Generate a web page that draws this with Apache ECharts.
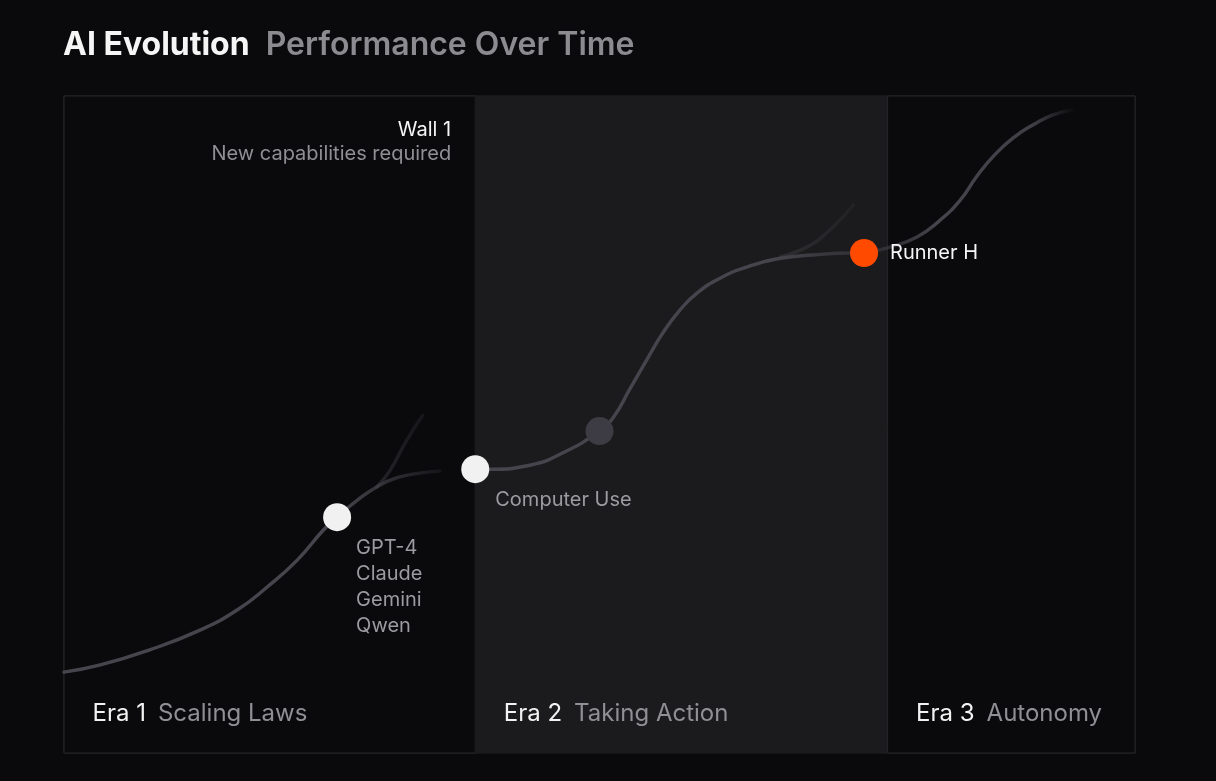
<!DOCTYPE html>
<html>
<head>
<meta charset="utf-8">
<title>AI Evolution</title>
<script src="https://cdn.jsdelivr.net/npm/echarts@6/dist/echarts.min.js"></script>
<style>
  html, body { margin: 0; padding: 0; background: #0a0a0c; }
  #chart { width: 1216px; height: 781px; }
</style>
</head>
<body>
<div id="chart"></div>
<script>
// eras along the time axis (0-100)
const eraNames = ['Era 1', 'Era 2', 'Era 3'];
const eraTitles = ['Scaling Laws', 'Taking Action', 'Autonomy'];
const eraBounds = [0, 38.4, 76.9, 100];

// performance curves [time, performance]
const scalingCurve = [
  [0, 12.3], [3.4, 13.4], [8.0, 15.7], [12.7, 18.7], [16.2, 21.8], [19.0, 25.3],
  [21.8, 29.4], [24.2, 33.9], [25.5, 35.9], [27.4, 38.5], [29.2, 40.5], [31.1, 41.9],
  [33.2, 42.6], [35.1, 42.9]
];
const scalingBranch = [[29.2, 40.5], [30.4, 42.9], [32.0, 47.6], [33.5, 51.4]];
const actionCurve = [
  [38.4, 43.2], [39.8, 43.2], [43.5, 43.8], [46.6, 45.7], [50.0, 49.0], [51.3, 51.1],
  [52.8, 55.3], [54.4, 59.8], [55.9, 63.9], [57.5, 67.4], [59.1, 70.0], [61.3, 72.3],
  [63.8, 74.0], [66.9, 75.3], [69.9, 75.8], [73.4, 76.1], [74.7, 76.1]
];
const actionBranch = [[66.9, 75.5], [69.7, 77.3], [71.5, 79.6], [72.9, 81.9], [73.7, 83.4]];
const autonomyCurve = [
  [74.7, 76.1], [76.9, 76.9], [79.6, 78.5], [81.8, 81.1], [83.7, 84.2], [85.2, 87.7],
  [86.7, 90.7], [88.6, 93.6], [90.8, 95.9], [92.3, 97.1], [94.2, 97.9]
];

// milestones
const milestones = [[25.5, 35.9], [38.4, 43.2], [50.0, 49.0], [74.7, 76.1]];
const milestoneLabels = ['GPT-4\nClaude\nGemini\nQwen', 'Computer Use', '', 'Runner H'];

// wall annotation
const wallPoint = [36.2, 93.0];
const wallTitle = 'Wall 1';
const wallText = 'New capabilities required';

const LINE = '70,69,77';
function fade(stops) {
  return new echarts.graphic.LinearGradient(0, 0, 1, 0,
    stops.map(s => ({ offset: s[0], color: 'rgba(' + LINE + ',' + s[1] + ')' })));
}

function curve(name, data, stops) {
  return {
    name: name,
    type: 'line',
    data: data,
    smooth: 0.5,
    showSymbol: false,
    silent: true,
    z: 3,
    lineStyle: { width: 3.4, color: fade(stops), cap: 'round' }
  };
}

const dotColors = ['#f1f1f1', '#f1f1f1', '#3d3c44', '#ff4a00'];
const dotLabels = [
  { position: [33, 32], color: '#9b9ba0' },
  { position: [34, 32], color: '#9b9ba0' },
  { show: false },
  { position: 'right', distance: 12, color: '#f5f5f5', verticalAlign: 'middle' }
];

const chart = echarts.init(document.getElementById('chart'));

const option = {
  backgroundColor: '#0a0a0c',
  animation: false,
  title: {
    left: 58,
    top: 24,
    text: '{a|AI Evolution}{b|Performance Over Time}',
    textStyle: {
      rich: {
        a: { fontFamily: 'Inter', fontSize: 32, fontWeight: 700, color: '#f5f5f5' },
        b: { fontFamily: 'Inter', fontSize: 32, fontWeight: 600, color: '#8c8c90', padding: [0, 0, 0, 16] }
      }
    }
  },
  grid: {
    left: 64, top: 96, width: 1071, height: 657,
    show: true, borderColor: '#232326', borderWidth: 1, backgroundColor: 'transparent'
  },
  xAxis: { type: 'value', min: 0, max: 100, show: false },
  yAxis: { type: 'value', min: 0, max: 100, show: false },
  series: [
    {
      name: 'eras',
      type: 'line',
      data: [],
      silent: true,
      z: 1,
      markArea: {
        silent: true,
        data: eraNames.map((n, i) => [
          {
            xAxis: eraBounds[i], yAxis: 0,
            itemStyle: {
              color: i === 1 ? '#1b1b1d' : '#0a0a0c',
              borderColor: i === 1 ? 'transparent' : '#26262a',
              borderWidth: 1
            },
            label: {
              show: true,
              position: [29, 618],
              align: 'left',
              verticalAlign: 'middle',
              formatter: '{a|' + n + '}{b|' + eraTitles[i] + '}',
              rich: {
                a: { fontFamily: 'Inter', fontSize: 24, color: '#f2f2f2' },
                b: { fontFamily: 'Inter', fontSize: 24, color: '#8f8f94', padding: [0, 0, 0, 12] }
              }
            }
          },
          { xAxis: eraBounds[i + 1], yAxis: 100 }
        ])
      }
    },
    curve('scaling', scalingCurve, [[0, 1], [0.72, 1], [1, 0.2]]),
    curve('scalingBranch', scalingBranch, [[0, 0.45], [1, 0.2]]),
    curve('action', actionCurve, [[0, 1], [0.75, 1], [1, 0.45]]),
    curve('actionBranch', actionBranch, [[0, 0.45], [1, 0.15]]),
    curve('autonomy', autonomyCurve, [[0, 0.3], [0.35, 1], [0.8, 0.9], [1, 0]]),
    {
      name: 'milestones',
      type: 'scatter',
      z: 5,
      symbolSize: 28,
      silent: true,
      data: milestones.map((p, i) => ({
        value: p,
        itemStyle: { color: dotColors[i], opacity: 1 },
        label: Object.assign({
          show: true,
          formatter: milestoneLabels[i],
          fontFamily: 'Inter',
          fontSize: 20,
          lineHeight: 26,
          align: 'left',
          verticalAlign: 'top'
        }, dotLabels[i])
      }))
    },
    {
      name: 'wall',
      type: 'scatter',
      z: 5,
      symbolSize: 1,
      silent: true,
      itemStyle: { color: 'transparent', opacity: 1 },
      data: [wallPoint],
      label: {
        show: true,
        position: 'left',
        distance: 0,
        formatter: '{a|' + wallTitle + '}\n{b|' + wallText + '}',
        rich: {
          a: { fontFamily: 'Inter', fontSize: 20, lineHeight: 24, color: '#f5f5f5', align: 'right' },
          b: { fontFamily: 'Inter', fontSize: 20, lineHeight: 24, color: '#8f8f94', align: 'right' }
        }
      }
    }
  ]
};

chart.setOption(option);
</script>
</body>
</html>
